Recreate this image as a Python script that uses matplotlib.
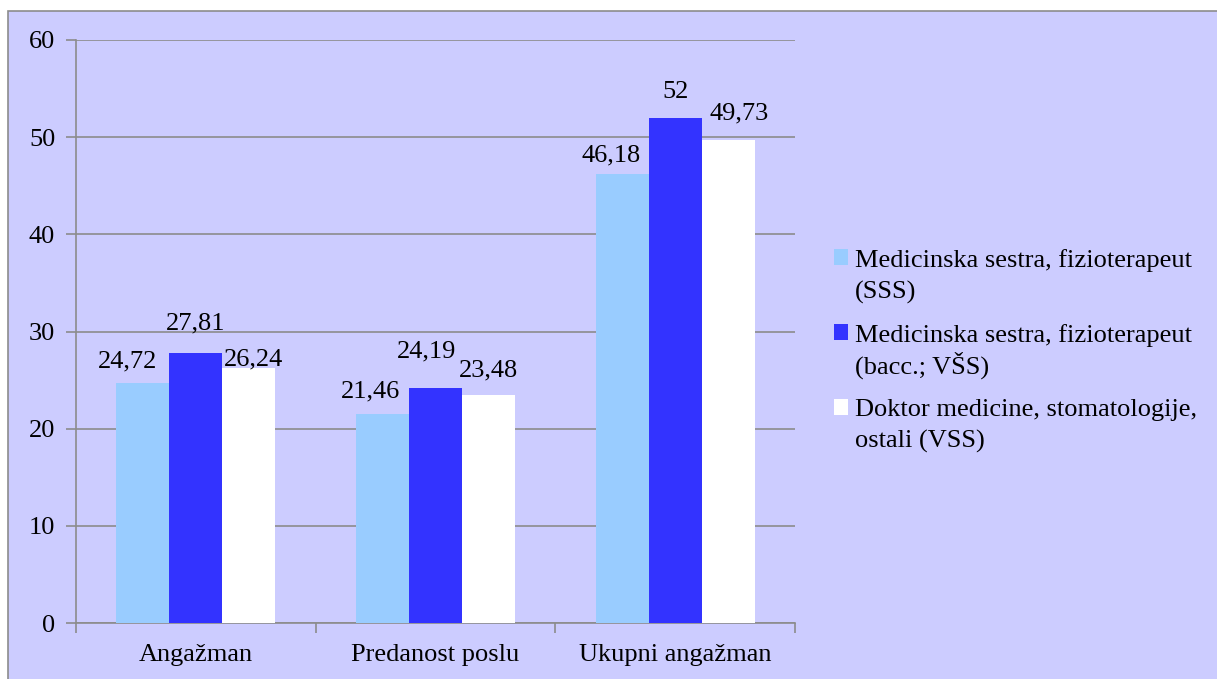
import matplotlib
matplotlib.use("Agg")
import matplotlib.pyplot as plt
from matplotlib.patches import Rectangle
import numpy as np

categories = ["Angažman", "Predanost poslu", "Ukupni angažman"]
series_names = [
    "Medicinska sestra, fizioterapeut\n(SSS)",
    "Medicinska sestra, fizioterapeut\n(bacc.; VŠS)",
    "Doktor medicine, stomatologije,\nostali (VSS)",
]
sss = [24.72, 21.46, 46.18]
vss_bacc = [27.81, 24.19, 52.00]
vss = [26.24, 23.48, 49.73]
label_text = [
    ["24,72", "21,46", "46,18"],
    ["27,81", "24,19", "52"],
    ["26,24", "23,48", "49,73"],
]
# label placement nudges (pixels: dx, gap above bar) as in the original layout
label_dx = [[-15, -12, -11], [0, -9, 0], [5, 0, 11]]
label_gap = [[15, 17, 13], [23, 31, 20], [3, 18, 20]]
legend_linespacing = [1.5, 1.22, 1.5]

colors = ["#99CCFF", "#3333FF", "#FFFFFF"]
bg = "#CCCCFF"
grid_c = "#8C8C8C"

plt.rcParams["font.family"] = ["Liberation Serif", "DejaVu Serif"]
FS = 19

W, H = 1217, 679
fig = plt.figure(figsize=(W / 100, H / 100), dpi=100)
fig.patch.set_facecolor("white")
# outer chart area frame
fig.patches.append(Rectangle((8 / W, -0.01), 1.02, 1 - 11 / H + 0.01,
                             transform=fig.transFigure, facecolor=bg,
                             edgecolor=grid_c, linewidth=1.2, zorder=-5))

left, right, top, bottom = 76, 795, 40, 623
ax = fig.add_axes([left / W, 1 - bottom / H, (right - left) / W, (bottom - top) / H])
ax.patch.set_alpha(0)

x = np.arange(len(categories))
bw = 0.221
data = [sss, vss_bacc, vss]
px2pt = 72 / 100
for i, (vals, c, name) in enumerate(zip(data, colors, series_names)):
    pos = x + (i - 1) * bw
    ax.bar(pos, vals, width=bw, color=c, label=name, zorder=3, linewidth=0)
    for j, (p, v, t) in enumerate(zip(pos, vals, label_text[i])):
        ax.annotate(t, (p, v),
                    xytext=(label_dx[i][j] * px2pt, label_gap[i][j] * px2pt),
                    textcoords="offset points",
                    ha="center", va="baseline", fontsize=FS, zorder=4)

ax.set_xlim(-0.5, 2.5)
ax.set_ylim(0, 60)
ax.set_yticks(range(0, 61, 10))
ax.yaxis.grid(True, color=grid_c, linewidth=1.2, zorder=1)
ax.set_axisbelow(True)
ax.set_xticks(x)
ax.set_xticklabels(categories, fontsize=FS)
ax.tick_params(axis="x", length=0, pad=15)
ax.set_xticks([-0.5, 0.5, 1.5, 2.5], minor=True)
ax.tick_params(axis="x", which="minor", length=7, color=grid_c, width=1.2)
ax.tick_params(axis="y", labelsize=FS, length=7, color=grid_c, width=1.2, pad=8)
for s in ["top", "right"]:
    ax.spines[s].set_visible(False)
for s in ["left", "bottom"]:
    ax.spines[s].set_color(grid_c)
    ax.spines[s].set_linewidth(1.2)

leg = fig.legend(loc="center left", bbox_to_anchor=(810 / W, 1 - 351 / H),
                 frameon=False, fontsize=FS, handlelength=0.55, handleheight=0.55,
                 handletextpad=0.25, labelspacing=0.77)
for t, ls in zip(leg.get_texts(), legend_linespacing):
    t.set_linespacing(ls)
for col in leg._legend_handle_box.get_children():
    for row in col.get_children():
        row.align = "top"

fig.savefig("out.png", dpi=100, facecolor=fig.get_facecolor())
